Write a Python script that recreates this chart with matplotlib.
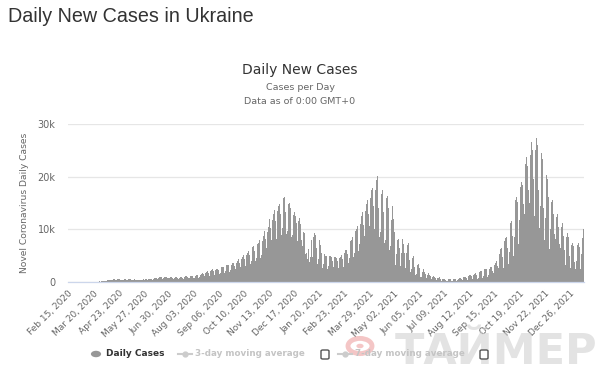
import matplotlib
matplotlib.use("Agg")
import matplotlib.pyplot as plt
from matplotlib.patches import Circle, FancyBboxPatch
from matplotlib.lines import Line2D

# Daily new cases in thousands, Feb 15, 2020 .. Jan 14, 2022 (rows = weeks starting Saturday)
cases_k = [
    0, 0, 0, 0, 0, 0, 0,
    0, 0, 0, 0, 0, 0, 0,
    0, 0, 0, 0, 0, 0, 0,
    0, 0, 0, 0, 0, 0, 0,
    0.001, 0, 0.002, 0.007, 0.002, 0.02, 0.01,
    0.02, 0.03, 0.05, 0.03, 0.07, 0.06, 0.08,
    0.1, 0.08, 0.06, 0.1, 0.15, 0.2, 0.17,
    0.27, 0.19, 0.17, 0.2, 0.3, 0.33, 0.35,
    0.39, 0.37, 0.26, 0.36, 0.47, 0.48, 0.48,
    0.52, 0.39, 0.39, 0.42, 0.49, 0.49, 0.48,
    0.48, 0.39, 0.41, 0.46, 0.46, 0.45, 0.54,
    0.55, 0.5, 0.45, 0.46, 0.42, 0.5, 0.52,
    0.5, 0.43, 0.36, 0.37, 0.44, 0.42, 0.48,
    0.43, 0.36, 0.26, 0.32, 0.43, 0.44, 0.46,
    0.47, 0.36, 0.3, 0.37, 0.48, 0.46, 0.47,
    0.54, 0.5, 0.34, 0.43, 0.6, 0.6, 0.63,
    0.68, 0.58, 0.43, 0.6, 0.7, 0.75, 0.85,
    0.95, 0.83, 0.6, 0.68, 0.84, 0.95, 1.0,
    0.99, 0.85, 0.57, 0.7, 0.9, 0.98, 0.97,
    0.95, 0.8, 0.6, 0.68, 0.85, 0.92, 0.9,
    0.88, 0.75, 0.55, 0.6, 0.8, 0.87, 0.9,
    0.9, 0.77, 0.57, 0.62, 0.82, 0.88, 0.93,
    1.0, 0.85, 0.62, 0.7, 0.95, 1.05, 1.1,
    1.15, 0.95, 0.67, 0.75, 1.05, 1.15, 1.2,
    1.2, 1.05, 0.7, 0.8, 1.15, 1.27, 1.3,
    1.35, 1.2, 0.85, 0.95, 1.4, 1.55, 1.6,
    1.65, 1.45, 1.0, 1.15, 1.65, 1.85, 1.9,
    2.05, 1.75, 1.2, 1.4, 2.1, 2.35, 2.4,
    2.4, 2.1, 1.35, 1.6, 2.2, 2.45, 2.5,
    2.55, 2.2, 1.5, 1.75, 2.55, 2.8, 2.9,
    2.9, 2.5, 1.75, 2.0, 2.9, 3.2, 3.3,
    3.3, 2.8, 1.95, 2.2, 3.2, 3.5, 3.6,
    3.7, 3.1, 2.2, 2.4, 3.6, 4.0, 4.1,
    4.3, 3.7, 2.6, 2.9, 4.3, 4.7, 4.8,
    5.2, 4.4, 3.0, 3.4, 5.1, 5.6, 5.8,
    6.1, 5.2, 3.5, 4.0, 6.0, 6.6, 6.8,
    6.9, 5.9, 4.0, 4.5, 6.7, 7.3, 7.5,
    7.9, 6.8, 4.6, 5.2, 7.8, 8.6, 8.8,
    9.6, 8.2, 5.6, 6.4, 9.5, 10.5, 10.8,
    11.9, 10.2, 7.1, 7.9, 11.7, 12.9, 13.3,
    13.7, 11.5, 8.1, 9.0, 13.5, 14.5, 14.8,
    15.4, 12.9, 9.0, 10.2, 14.6, 15.9, 16.2,
    15.6, 13.2, 9.2, 9.6, 13.8, 14.9, 15.0,
    14.1, 12.3, 8.6, 8.9, 12.7, 13.4, 13.2,
    12.5, 11.2, 7.5, 7.8, 11.5, 12.3, 12.1,
    11.0, 8.0, 6.3, 6.9, 9.5, 9.3, 8.9,
    5.4, 5.5, 4.4, 4.2, 6.2, 3.8, 4.7,
    8.2, 7.9, 4.7, 5.6, 8.5, 9.3, 8.9,
    7.9, 6.5, 3.4, 4.3, 6.8, 8.0, 7.1,
    5.5, 4.5, 2.6, 3.5, 5.3, 5.5, 4.9,
    4.9, 4.0, 2.5, 3.0, 4.9, 5.2, 5.0,
    4.7, 3.9, 2.4, 2.9, 4.7, 4.8, 4.6,
    4.6, 3.9, 2.6, 3.0, 4.6, 4.8, 4.8,
    5.1, 4.4, 2.9, 3.5, 5.5, 6.0, 6.1,
    6.6, 5.4, 3.7, 4.6, 7.1, 7.8, 8.0,
    8.5, 7.0, 4.8, 5.6, 8.7, 9.6, 10.0,
    10.6, 8.8, 5.9, 7.3, 11.0, 12.1, 12.5,
    13.2, 10.8, 7.5, 8.8, 13.5, 14.8, 15.5,
    15.6, 13.0, 9.0, 10.6, 16.0, 17.4, 18.0,
    17.8, 14.5, 10.0, 11.6, 17.4, 19.4, 20.2,
    18.2, 14.0, 8.5, 9.5, 15.0, 16.8, 17.5,
    16.8, 13.3, 7.4, 8.0, 13.9, 15.9, 16.4,
    14.0, 11.5, 6.0, 6.9, 11.8, 13.6, 14.5,
    12.0, 9.5, 4.0, 3.2, 5.4, 8.0, 11.5,
    8.2, 6.5, 3.3, 3.0, 5.6, 8.2, 8.6,
    7.2, 5.5, 2.7, 3.2, 5.6, 7.0, 7.4,
    5.1, 4.1, 1.9, 2.4, 3.9, 4.6, 5.0,
    3.6, 2.9, 1.3, 1.6, 2.6, 3.3, 3.5,
    2.6, 2.2, 0.95, 1.0, 1.9, 2.4, 2.5,
    1.9, 1.55, 0.65, 0.7, 1.35, 1.7, 1.8,
    1.3, 1.1, 0.45, 0.5, 0.95, 1.2, 1.3,
    0.95, 0.8, 0.35, 0.4, 0.75, 0.85, 0.9,
    0.7, 0.55, 0.25, 0.3, 0.55, 0.63, 0.65,
    0.58, 0.45, 0.2, 0.25, 0.47, 0.53, 0.55,
    0.55, 0.45, 0.2, 0.27, 0.52, 0.56, 0.6,
    0.62, 0.5, 0.25, 0.33, 0.65, 0.75, 0.8,
    0.78, 0.62, 0.3, 0.4, 0.86, 0.95, 1.0,
    1.0, 0.78, 0.4, 0.55, 1.1, 1.3, 1.4,
    1.35, 1.05, 0.5, 0.65, 1.4, 1.6, 1.7,
    1.6, 1.25, 0.55, 0.75, 1.5, 1.9, 2.1,
    2.0, 1.55, 0.75, 1.1, 2.2, 2.4, 2.5,
    2.4, 1.8, 0.9, 1.3, 2.5, 2.7, 2.8,
    2.9, 2.1, 1.2, 1.8, 3.3, 3.6, 3.8,
    4.0, 3.0, 1.6, 2.7, 5.4, 6.3, 6.7,
    6.5, 4.8, 2.6, 4.3, 7.7, 8.3, 8.5,
    8.2, 6.4, 3.4, 5.7, 10.0, 11.2, 11.6,
    10.8, 8.7, 5.0, 8.6, 14.7, 15.6, 16.2,
    15.2, 11.6, 7.2, 11.8, 18.0, 18.9, 19.0,
    18.5, 14.8, 10.5, 13.0, 22.4, 23.8, 23.6,
    22.0, 17.4, 11.5, 15.0, 24.1, 26.5, 26.8,
    25.0, 19.6, 12.6, 16.0, 25.1, 27.3, 26.1,
    23.9, 17.5, 10.3, 14.5, 20.8, 24.5, 23.3,
    19.7, 14.0, 8.0, 12.1, 18.3, 20.4, 19.5,
    16.2, 11.8, 6.3, 10.0, 15.2, 16.6, 15.5,
    13.0, 9.2, 5.0, 8.1, 12.4, 13.7, 13.0,
    10.5, 7.3, 3.8, 6.5, 10.4, 11.2, 10.2,
    8.7, 6.0, 3.2, 5.2, 8.5, 9.3, 8.6,
    7.0, 5.0, 2.6, 4.3, 7.0, 7.4, 6.8,
    5.2, 3.8, 2.4, 3.9, 6.3, 7.1, 7.4,
    6.6, 4.0, 2.5, 5.3, 8.4, 9.4, 10.0,
]

tick_labels = [
    "Feb 15, 2020", "Mar 20, 2020", "Apr 23, 2020", "May 27, 2020",
    "Jun 30, 2020", "Aug 03, 2020", "Sep 06, 2020", "Oct 10, 2020",
    "Nov 13, 2020", "Dec 17, 2020", "Jan 20, 2021", "Feb 23, 2021",
    "Mar 29, 2021", "May 02, 2021", "Jun 05, 2021", "Jul 09, 2021",
    "Aug 12, 2021", "Sep 15, 2021", "Oct 19, 2021", "Nov 22, 2021",
    "Dec 26, 2021",
]
tick_step = 34
y_ticks = [0, 10, 20, 30]
y_tick_labels = ["0", "10k", "20k", "30k"]

W, H = 600, 379
fig = plt.figure(figsize=(W / 100, H / 100), dpi=100)
fig.patch.set_facecolor("white")

def fx(px):
    return px / W

def fy(py):
    return 1 - py / H

ax = fig.add_axes([fx(68), fy(282), fx(584) - fx(68), fy(124) - fy(282)])
xs = list(range(len(cases_k)))
ax.bar(xs, cases_k, width=1.0, color="#979797", linewidth=0, zorder=2)
ax.set_xlim(-0.5, len(cases_k) - 0.5)
ax.set_ylim(0, 30)
ax.set_yticks(y_ticks)
ax.set_yticklabels(y_tick_labels)
ax.grid(axis="y", color="#e6e6e6", linewidth=0.9, zorder=0)
ax.set_axisbelow(True)
for s in ["top", "right", "left"]:
    ax.spines[s].set_visible(False)
ax.spines["bottom"].set_color("#ccd6eb")
ax.spines["bottom"].set_linewidth(0.9)
ax.tick_params(axis="y", length=0, labelsize=7, labelcolor="#666666", pad=9)
ax.set_xticks(xs[::tick_step][: len(tick_labels)])
ax.set_xticklabels(tick_labels, rotation=45, ha="right", rotation_mode="anchor",
                   fontsize=6.5, color="#666666")
ax.tick_params(axis="x", length=0, pad=5)

# Titles
fig.text(fx(8), fy(17), "Daily New Cases in Ukraine", family="Liberation Sans",
         fontsize=14.2, color="#333333", ha="left", va="center")
fig.text(fx(300), fy(70), "Daily New Cases", fontsize=10, color="#333333",
         ha="center", va="center")
fig.text(fx(300), fy(88), "Cases per Day", fontsize=6.8, color="#666666",
         ha="center", va="center")
fig.text(fx(300), fy(101), "Data as of 0:00 GMT+0", fontsize=6.8, color="#666666",
         ha="center", va="center")
fig.text(fx(25), fy(203), "Novel Coronavirus Daily Cases", fontsize=6.6,
         color="#666666", rotation=90, ha="center", va="center")

# Watermark (drawn beneath the legend)
fig.patches.append(Circle((fx(360), fy(346)), 0.02, transform=fig.transFigure,
                          facecolor="none", edgecolor="#f2b8b8", linewidth=3.5,
                          alpha=0.8, zorder=0.5))
fig.patches.append(Circle((fx(360), fy(346)), 0.006, transform=fig.transFigure,
                          facecolor="#f2b8b8", edgecolor="none", alpha=0.8, zorder=0.5))
fig.text(fx(496), fy(364), "ТАЙМЕР", fontsize=31, fontweight="bold",
         color="#cccccc", alpha=0.55, ha="center", va="baseline", zorder=0.6)

# Legend
ly = 354
fig.patches.append(Circle((fx(96), fy(ly)), 0.0085, transform=fig.transFigure,
                          facecolor="#979797", edgecolor="none", zorder=4))
fig.text(fx(106), fy(ly), "Daily Cases", fontsize=6.5, fontweight="bold",
         color="#333333", ha="left", va="center", zorder=5)
for x0, label, bx in [(178, "3-day moving average", 325), (338, "7-day moving average", 484)]:
    fig.add_artist(Line2D([fx(x0), fx(x0 + 14)], [fy(ly), fy(ly)], color="#cccccc",
                          linewidth=1.5, transform=fig.transFigure, zorder=4))
    fig.add_artist(Line2D([fx(x0 + 7)], [fy(ly)], marker="o", markersize=3.5,
                          color="#cccccc", transform=fig.transFigure, zorder=4))
    fig.text(fx(x0 + 17), fy(ly), label, fontsize=6.3, fontweight="bold",
             color="#c4c4c4", ha="left", va="center", zorder=5)
    fig.patches.append(FancyBboxPatch((fx(bx - 4), fy(ly + 5)), fx(8), fy(0) - fy(9),
                                      boxstyle="round,pad=0,rounding_size=0.003",
                                      transform=fig.transFigure, facecolor="white",
                                      edgecolor="#555555", linewidth=1.0, zorder=4))

fig.savefig("out.png", dpi=100)
